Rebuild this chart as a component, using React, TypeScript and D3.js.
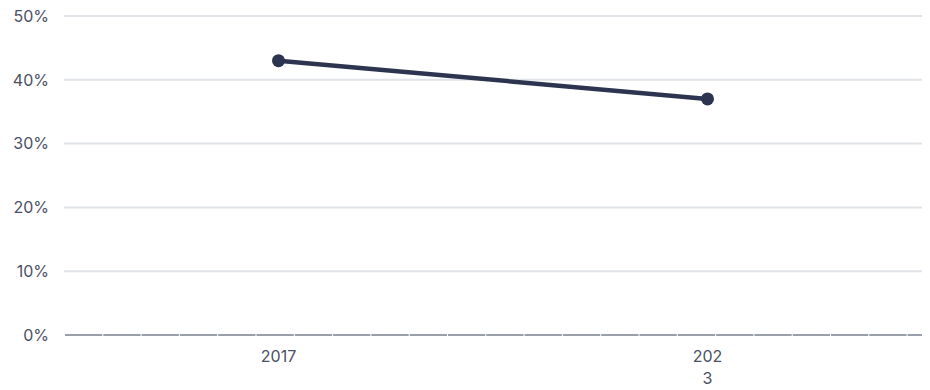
import React from "react";
import * as d3 from "d3";

const categories = ["2017", "2023"];
const values = [0.43, 0.37];
const yTicks = [0, 0.1, 0.2, 0.3, 0.4, 0.5];

const W = 930;
const H = 390;
const left = 64;
const right = 922;
const top = 16;
const bottom = 335;

export default function App() {
  const x = d3.scaleBand<string>().domain(categories).range([left, right]).padding(0);
  const y = d3.scaleLinear().domain([0, 0.5]).range([bottom, top]);
  const line = d3
    .line<number>()
    .x((_, i) => (x(categories[i]) as number) + x.bandwidth() / 2)
    .y((d) => y(d));
  const fmt = d3.format(".0%");
  const font = "Inter, 'Noto Sans', sans-serif";
  return (
    <svg
      width={W}
      height={H}
      style={{ position: "absolute", left: 0, top: 0, background: "#fff" }}
      fontFamily={font}
    >
      {yTicks.map((t) => (
        <g key={t}>
          {t !== 0 && (
            <line x1={left} x2={right} y1={y(t)} y2={y(t)} stroke="#e0e3e8" strokeWidth={2} />
          )}
          <text x={49} y={y(t)} dy="0.36em" textAnchor="end" fontSize={16} fill="#4a5063">
            {fmt(t)}
          </text>
        </g>
      ))}
      <line
        x1={left + 1}
        x2={right}
        y1={y(0)}
        y2={y(0)}
        stroke="#9aa0ab"
        strokeWidth={2}
        strokeDasharray="37.3,1"
      />
      <path d={line(values) || ""} fill="none" stroke="#2c3450" strokeWidth={4.5} />
      {values.map((v, i) => (
        <circle
          key={i}
          cx={(x(categories[i]) as number) + x.bandwidth() / 2}
          cy={y(v)}
          r={6.5}
          fill="#2c3450"
        />
      ))}
      {categories.map((c, i) => {
        const cx = (x(c) as number) + x.bandwidth() / 2;
        const lines = i === 1 ? ["202", "3"] : [c];
        return (
          <text key={c} x={cx} y={362} textAnchor="middle" fontSize={16} fill="#4a5063">
            {lines.map((l, j) => (
              <tspan key={j} x={cx} dy={j === 0 ? 0 : 22}>
                {l}
              </tspan>
            ))}
          </text>
        );
      })}
    </svg>
  );
}
